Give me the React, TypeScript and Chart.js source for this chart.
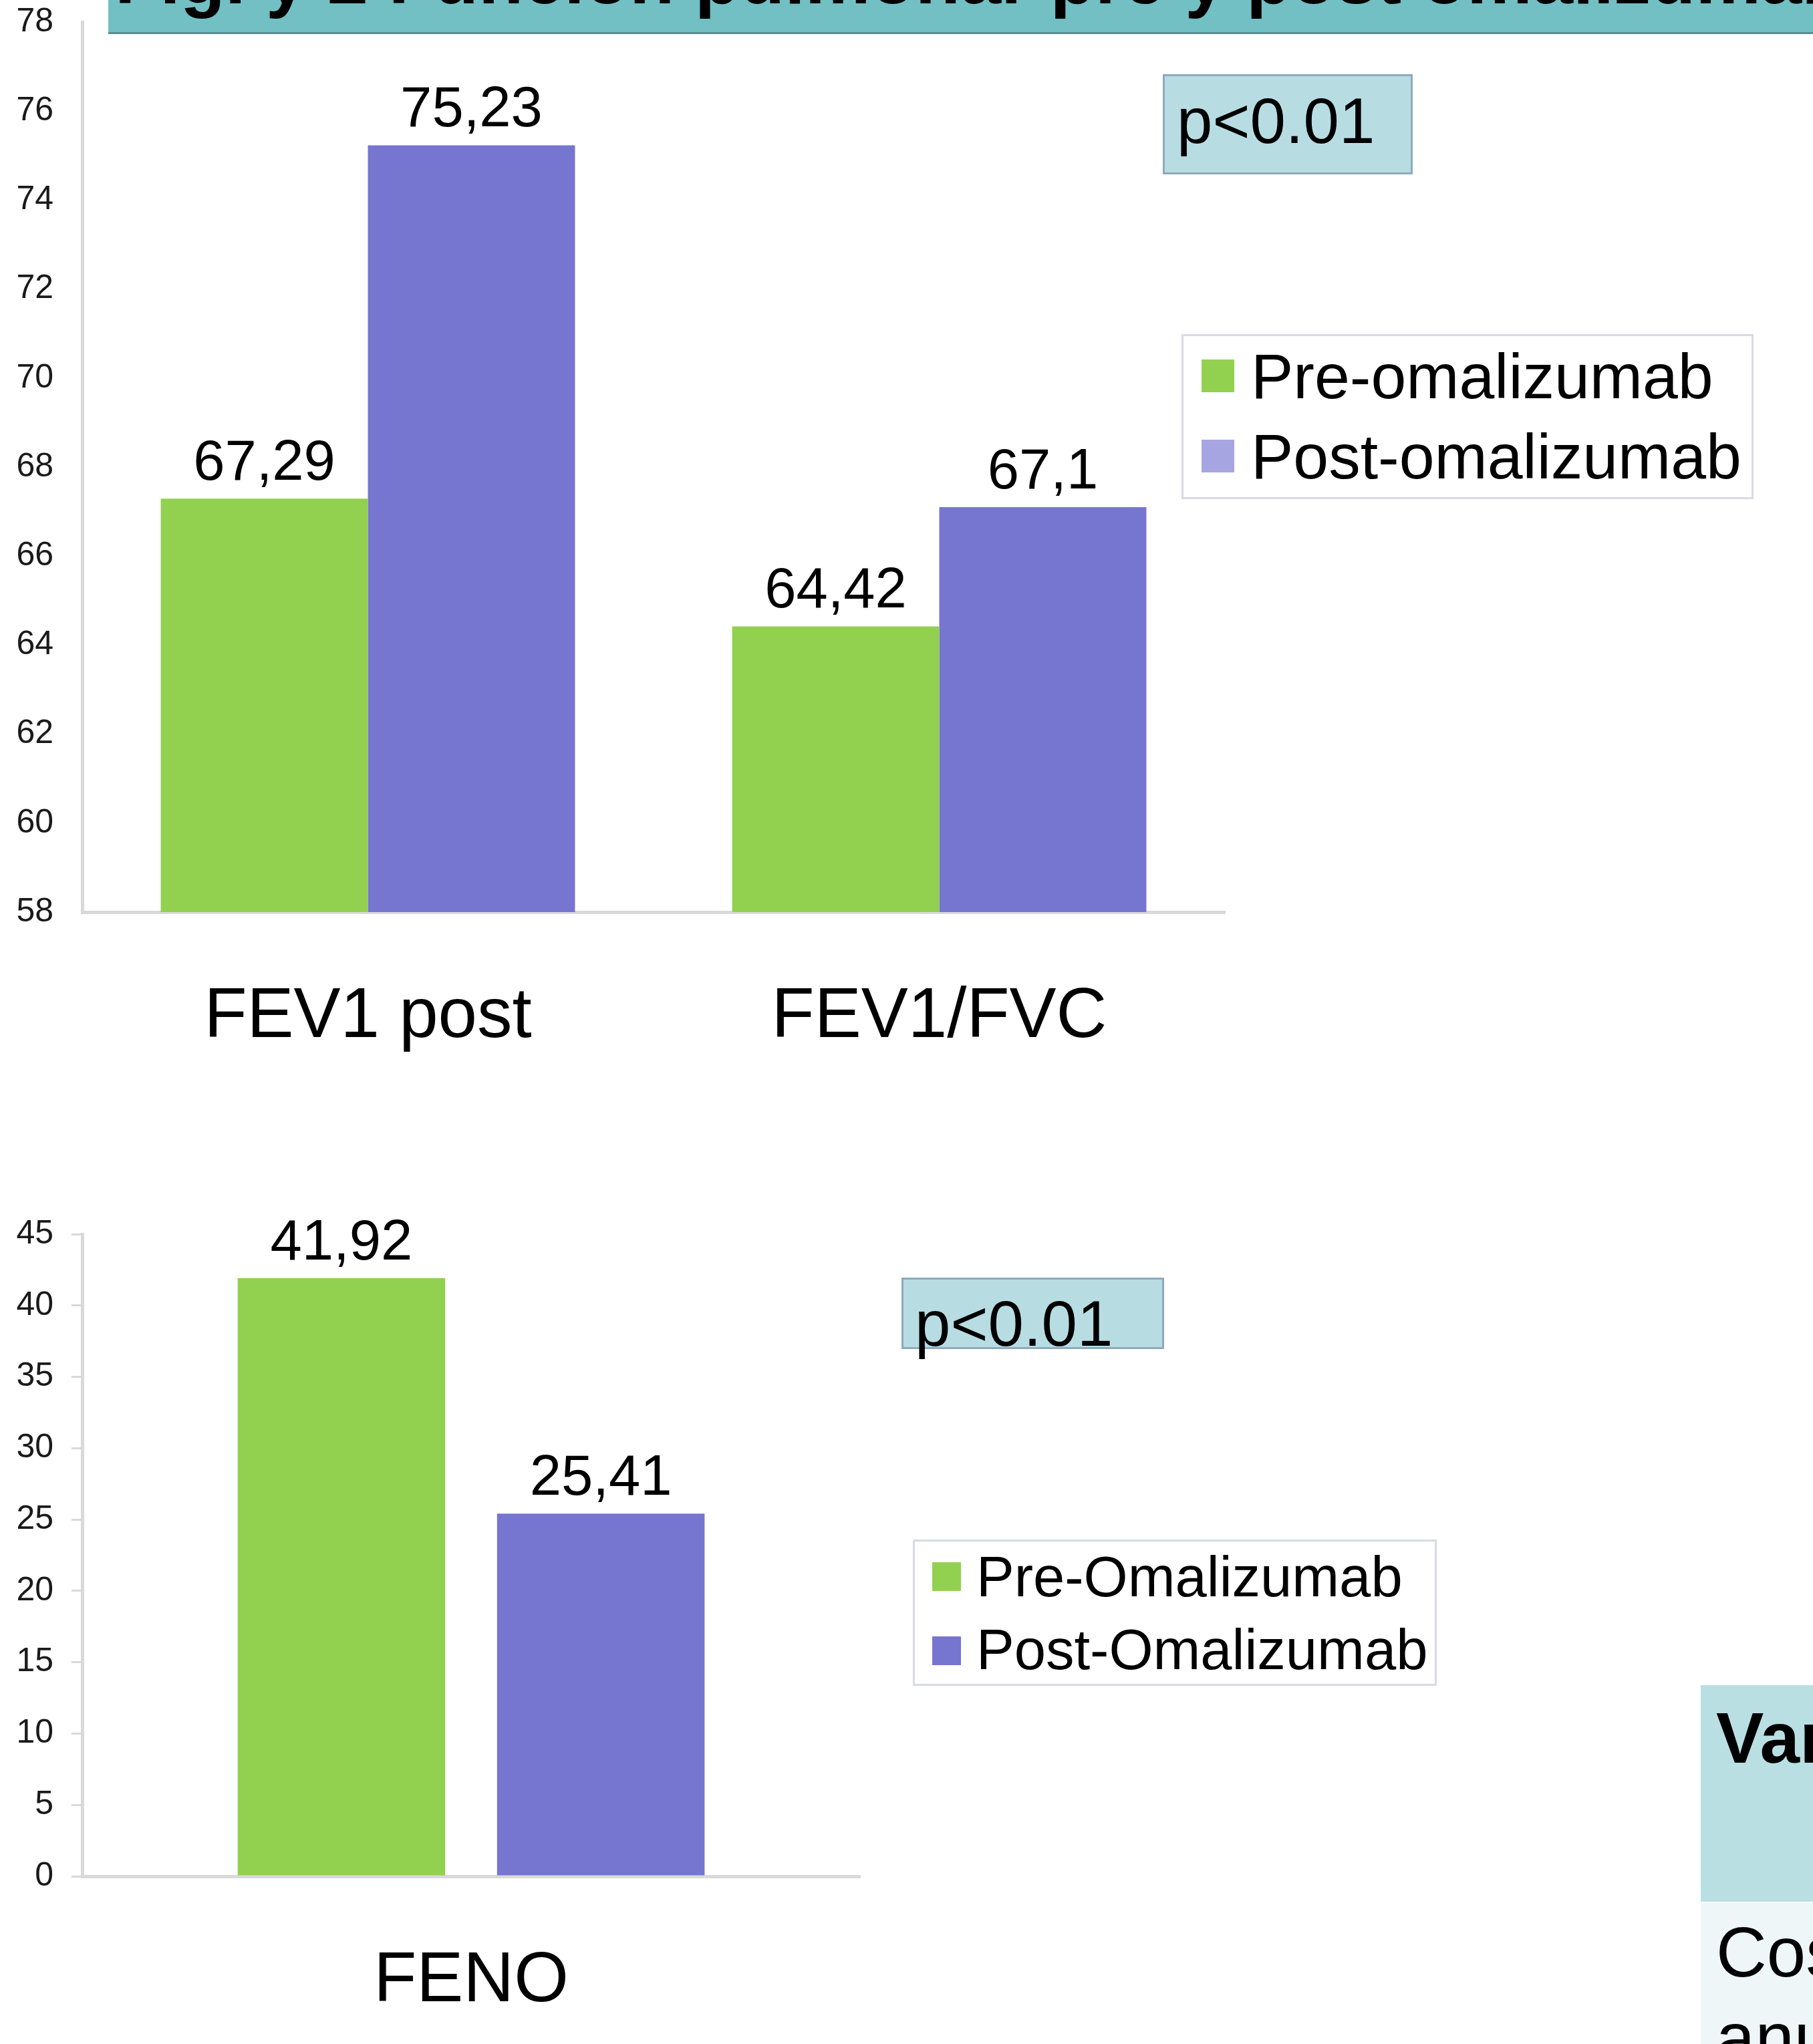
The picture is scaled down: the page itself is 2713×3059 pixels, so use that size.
import React, { useEffect, useRef } from "react";
import { Chart, registerables } from "chart.js";

Chart.register(...registerables);

// ---------- data ----------
const TITLE = "Fig. y 2 Función pulmonar pre y post omalizumab";

const TOP_CATEGORIES = ["FEV1 post", "FEV1/FVC"];
const TOP_SERIES = ["Pre-omalizumab", "Post-omalizumab"];
const TOP_PRE = [67.29, 64.42];
const TOP_POST = [75.23, 67.1];
const TOP_Y_MIN = 58;
const TOP_Y_MAX = 78;
const TOP_Y_STEP = 2;

const BOTTOM_CATEGORIES = ["FENO"];
const BOTTOM_SERIES = ["Pre-Omalizumab", "Post-Omalizumab"];
const BOTTOM_PRE = [41.92];
const BOTTOM_POST = [25.41];
const BOTTOM_Y_MIN = 0;
const BOTTOM_Y_MAX = 45;
const BOTTOM_Y_STEP = 5;

const P_TEXT = "p<0.01";
const TABLE_HEADER = "Variable";
const TABLE_ROW = ["Coste", "anual"];

// ---------- styles ----------
const FONT = "'Liberation Sans', Arial, Helvetica, sans-serif";
const GREEN = "#92d14f";
const PURPLE = "#7675cf";
const LEGEND_PURPLE_LIGHT = "#a7a4e2";
const AXIS = "#d9d9d9";

const valueLabels = {
  id: "valueLabels",
  afterDatasetsDraw(chart: any) {
    const ctx = chart.ctx;
    ctx.save();
    ctx.font = `85px ${FONT}`;
    ctx.fillStyle = "#000";
    ctx.textAlign = "center";
    ctx.textBaseline = "alphabetic";
    chart.data.datasets.forEach((ds: any, i: number) => {
      const meta = chart.getDatasetMeta(i);
      meta.data.forEach((el: any, j: number) => {
        const v = ds.data[j];
        ctx.fillText(String(v).replace(".", ","), el.x, el.y - 28);
      });
    });
    ctx.restore();
  },
};

function buildConfig(p: {
  labels: string[];
  series: string[];
  pre: number[];
  post: number[];
  min: number;
  max: number;
  step: number;
  catPct: number;
  barPct: number;
  padding: any;
  yWidth: number;
  xHeight: number;
  showTickMarks: boolean;
}) {
  return {
    type: "bar",
    data: {
      labels: p.labels,
      datasets: [
        {
          label: p.series[0],
          data: p.pre,
          backgroundColor: GREEN,
          borderWidth: 0,
          categoryPercentage: p.catPct,
          barPercentage: p.barPct,
        },
        {
          label: p.series[1],
          data: p.post,
          backgroundColor: PURPLE,
          borderWidth: 0,
          categoryPercentage: p.catPct,
          barPercentage: p.barPct,
        },
      ],
    },
    options: {
      responsive: false,
      devicePixelRatio: 1,
      animation: false,
      layout: { padding: p.padding },
      plugins: { legend: { display: false }, tooltip: { enabled: false } },
      scales: {
        x: {
          grid: { display: false, drawTicks: false },
          border: { display: true, color: AXIS, width: 5 },
          ticks: {
            font: { family: FONT, size: 105 },
            color: "#000",
            padding: 95,
            maxRotation: 0,
            autoSkip: false,
          },
          afterFit: (s: any) => {
            s.height = p.xHeight;
            s.paddingLeft = 0;
            s.paddingRight = 0;
            s.paddingTop = 0;
            s.paddingBottom = 0;
          },
        },
        y: {
          min: p.min,
          max: p.max,
          grid: p.showTickMarks
            ? {
                display: true,
                drawOnChartArea: false,
                drawTicks: true,
                tickLength: 16,
                color: AXIS,
                lineWidth: 3,
              }
            : { display: false, drawTicks: false },
          border: { display: true, color: AXIS, width: 5 },
          ticks: {
            stepSize: p.step,
            font: { family: FONT, size: 50 },
            color: "#1a1a1a",
            padding: p.showTickMarks ? 27 : 43,
            autoSkip: false,
          },
          afterFit: (s: any) => {
            s.width = p.yWidth;
            s.paddingLeft = 0;
            s.paddingRight = 0;
            s.paddingTop = 0;
            s.paddingBottom = 0;
          },
        },
      },
    },
    plugins: [valueLabels],
  } as any;
}

function Legend(props: {
  left: number;
  top: number;
  width: number;
  height: number;
  items: string[];
  colors: string[];
  sq: number;
  sqX: number;
  sqY: number[];
  textX: number;
  textBase: number[];
  fontSize: number;
}) {
  return (
    <div
      style={{
        position: "absolute",
        left: props.left,
        top: props.top,
        width: props.width,
        height: props.height,
        border: "3px solid #d9d9e8",
        boxSizing: "border-box",
        background: "#fff",
      }}
    >
      {props.items.map((t, i) => (
        <React.Fragment key={t}>
          <div
            style={{
              position: "absolute",
              left: props.sqX - props.left - 3,
              top: props.sqY[i] - props.top - 3,
              width: props.sq,
              height: props.sq,
              background: props.colors[i],
            }}
          />
          <div
            style={{
              position: "absolute",
              left: props.textX - props.left - 3,
              top: props.textBase[i] - props.top - 3 - 0.8465 * props.fontSize,
              fontFamily: FONT,
              fontSize: props.fontSize,
              lineHeight: 1,
              whiteSpace: "nowrap",
              color: "#000",
            }}
          >
            {t}
          </div>
        </React.Fragment>
      ))}
    </div>
  );
}

function PBox(props: {
  left: number;
  top: number;
  width: number;
  height: number;
  textX: number;
  textBase: number;
}) {
  const fs = 96;
  return (
    <>
      <div
        style={{
          position: "absolute",
          left: props.left,
          top: props.top,
          width: props.width,
          height: props.height,
          background: "#b7dde3",
          border: "3px solid #8eaabd",
          boxSizing: "border-box",
        }}
      />
      <div
        style={{
          position: "absolute",
          left: props.textX,
          top: props.textBase - 0.8465 * fs,
          fontFamily: FONT,
          fontSize: fs,
          lineHeight: 1,
          whiteSpace: "nowrap",
          color: "#000",
        }}
      >
        {P_TEXT}
      </div>
    </>
  );
}

export default function App() {
  const topRef = useRef<HTMLCanvasElement>(null);
  const botRef = useRef<HTMLCanvasElement>(null);

  useEffect(() => {
    document.body.style.margin = "0";
    const c1 = new Chart(
      topRef.current as HTMLCanvasElement,
      buildConfig({
        labels: TOP_CATEGORIES,
        series: TOP_SERIES,
        pre: TOP_PRE,
        post: TOP_POST,
        min: TOP_Y_MIN,
        max: TOP_Y_MAX,
        step: TOP_Y_STEP,
        catPct: 0.725,
        barPct: 1.0,
        padding: { top: 33, right: 67, left: 0, bottom: 0 },
        yWidth: 123,
        xHeight: 285,
        showTickMarks: false,
      })
    );
    const c2 = new Chart(
      botRef.current as HTMLCanvasElement,
      buildConfig({
        labels: BOTTOM_CATEGORIES,
        series: BOTTOM_SERIES,
        pre: BOTTOM_PRE,
        post: BOTTOM_POST,
        min: BOTTOM_Y_MIN,
        max: BOTTOM_Y_MAX,
        step: BOTTOM_Y_STEP,
        catPct: 0.667,
        barPct: 0.8,
        padding: { top: 97, right: 113, left: 0, bottom: 0 },
        yWidth: 123,
        xHeight: 251,
        showTickMarks: true,
      })
    );
    return () => {
      c1.destroy();
      c2.destroy();
    };
  }, []);

  return (
    <div
      style={{
        position: "absolute",
        left: 0,
        top: 0,
        width: 2713,
        height: 3059,
        overflow: "hidden",
        background: "#fff",
        fontFamily: FONT,
      }}
    >
      <canvas
        ref={topRef}
        width={1900}
        height={1650}
        style={{ position: "absolute", left: 0, top: 0 }}
      />
      <canvas
        ref={botRef}
        width={1400}
        height={1309}
        style={{ position: "absolute", left: 0, top: 1750 }}
      />

      {/* title banner (cut off at the top of the picture) */}
      <div
        style={{
          position: "absolute",
          left: 162,
          top: 0,
          width: 2551,
          height: 48,
          background: "#72bfc4",
          borderBottom: "3px solid #5c8c90",
          overflow: "hidden",
        }}
      >
        <div
          style={{
            position: "absolute",
            left: 10,
            top: 5 - 0.8465 * 110,
            fontFamily: FONT,
            fontWeight: "bold",
            fontSize: 110,
            lineHeight: 1,
            whiteSpace: "nowrap",
            color: "#000",
          }}
        >
          {TITLE}
        </div>
      </div>

      <PBox left={1740} top={111} width={374} height={150} textX={1761} textBase={214} />
      <Legend
        left={1768}
        top={500}
        width={856}
        height={247}
        items={TOP_SERIES}
        colors={[GREEN, LEGEND_PURPLE_LIGHT]}
        sq={49}
        sqX={1798}
        sqY={[538, 658]}
        textX={1872}
        textBase={[596, 716]}
        fontSize={95}
      />

      <PBox left={1349} top={1912} width={393} height={107} textX={1369} textBase={2014} />
      <Legend
        left={1366}
        top={2304}
        width={784}
        height={219}
        items={BOTTOM_SERIES}
        colors={[GREEN, PURPLE]}
        sq={43}
        sqX={1395}
        sqY={[2338, 2449]}
        textX={1461}
        textBase={[2389, 2498]}
        fontSize={85}
      />

      {/* table fragment at the lower right */}
      <div
        style={{
          position: "absolute",
          left: 2545,
          top: 2522,
          width: 200,
          height: 324,
          background: "#b9dfe3",
        }}
      />
      <div
        style={{
          position: "absolute",
          left: 2568,
          top: 2639 - 0.8465 * 107,
          fontFamily: FONT,
          fontWeight: "bold",
          fontSize: 107,
          lineHeight: 1,
          whiteSpace: "nowrap",
          color: "#000",
        }}
      >
        {TABLE_HEADER}
      </div>
      <div
        style={{
          position: "absolute",
          left: 2545,
          top: 2848,
          width: 200,
          height: 240,
          background: "#eef6f7",
        }}
      />
      {TABLE_ROW.map((t, i) => (
        <div
          key={t}
          style={{
            position: "absolute",
            left: 2568,
            top: 2958 + i * 128 - 0.8465 * 105,
            fontFamily: FONT,
            fontSize: 105,
            lineHeight: 1,
            whiteSpace: "nowrap",
            color: "#000",
          }}
        >
          {t}
        </div>
      ))}
    </div>
  );
}
